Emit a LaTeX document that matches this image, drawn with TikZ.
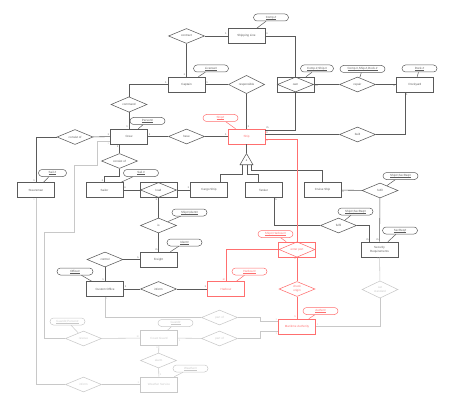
\documentclass[tikz,border=0pt]{standalone}
\usepackage{fontspec}
\setmainfont{Liberation Sans}
\usetikzlibrary{shapes.geometric}
\definecolor{erink}{HTML}{5A5A5A}
\definecolor{erred}{HTML}{FF6F6F}
\definecolor{ergray}{HTML}{C8C8C8}
\newcommand{\ulkey}[1]{\leavevmode\vtop{\hbox{#1}\kern0.25pt\hrule height 0.15pt}}
\begin{document}
\begin{tikzpicture}[x=1pt, y=-1pt,
    ent_style/.style={draw=erink, line width=0.55pt, minimum width=37pt, minimum height=15pt, inner sep=0pt, text=erink, align=center, font=\fontsize{3}{3.6}\selectfont},
    rel_style/.style={diamond, draw=erink, line width=0.55pt, minimum width=36pt, minimum height=15pt, inner sep=0pt, text=erink, align=center, font=\fontsize{3}{3.6}\selectfont},
    key_style/.style={draw=erink, line width=0.5pt, rounded corners=3.5pt, minimum width=35pt, minimum height=7pt, inner sep=0pt, text=erink, font=\fontsize{3}{3.6}\selectfont},
    isa_style/.style={regular polygon, regular polygon sides=3, draw=erink, line width=0.55pt, minimum size=15pt, inner sep=0pt, text=erink, font=\fontsize{2.6}{3}\selectfont},
    red_style/.style={draw=erred, text=erred},
    gray_style/.style={draw=ergray, text=ergray},
    link_style/.style={draw=erink, line width=0.55pt},
    card_style/.style={font=\fontsize{2.6}{3}\selectfont, text=erink, inner sep=0.8pt}
]
\useasboundingbox (0,0) rectangle (454,406);
% top row
\node[ent_style] (shipline) at (246.5,36) {Shipping Line};
\node[key_style] (compkey) at (271,17.5) {\ulkey{Comp.\#}};
\node[rel_style] (contract) at (186.5,36) {contract};
\node[ent_style] (captain) at (186.5,84.5) {Captain};
\node[key_style] (licensekey) at (211,68.5) {\ulkey{License\#}};
\node[rel_style] (responsible) at (246.5,84.5) {responsible};
\node[ent_style] (own) at (295.5,84.5) {};
\node[rel_style] (ownrel) at (own) {own};
\node[key_style, minimum width=33pt] (ownkey) at (317,68.5) {\ulkey{Comp.\#,Ship.\#}};
\node[rel_style] (repair) at (357.5,84.5) {repair};
\node[key_style, minimum width=45pt] (repairkey) at (362.5,69) {\ulkey{Comp.\#,Ship.\#,Dock.\#}};
\node[ent_style] (dockyard) at (415,84.5) {Dockyard};
\node[key_style] (dockkey) at (419.5,68.5) {\ulkey{Dock.\#}};
% crew row
\node[rel_style] (command) at (129,104.5) {command};
\node[ent_style] (crew) at (129,136.5) {Crew};
\node[key_style] (personkey) at (147.5,121) {\ulkey{Person\#}};
\node[rel_style] (consistA) at (75,137) {consist of};
\node[rel_style] (have) at (186.5,136.5) {have};
\node[ent_style, red_style] (ship) at (246.5,136.5) {Ship};
\node[key_style, red_style] (shipkey) at (220.5,118) {\ulkey{Ship\#}};
\node[rel_style] (built) at (357.5,134.5) {built};
% subtypes
\node[rel_style] (consistB) at (119.5,161) {consist of};
\node[isa_style] (isa) at (246.5,161) {d};
\node[ent_style] (steersman) at (36,190) {Steersman};
\node[key_style, minimum width=28pt] (steerkey) at (52.5,173) {\ulkey{Sail.\#}};
\node[ent_style] (sailor) at (104.5,190) {Sailor};
\node[key_style] (sailkey) at (141,173) {\ulkey{Sail.\#}};
\node[ent_style] (load) at (158.5,190) {};
\node[rel_style] (loadrel) at (load) {load};
\node[ent_style] (cargo) at (209,190) {Cargo Ship};
\node[ent_style] (tanker) at (263.5,190) {Tanker};
\node[ent_style] (cruise) at (322.5,190) {Cruise Ship};
\node[rel_style] (fulfilA) at (380,190.5) {fulfil};
\node[key_style] (fulfilAkey) at (400.5,176) {\ulkey{Ship\#,SecReq\#}};
% lower part
\node[rel_style] (is) at (158.5,225.5) {is};
\node[key_style] (iskey) at (189.5,212.5) {\ulkey{Ship\#,Ident\#}};
\node[rel_style] (fulfilB) at (338.5,225.5) {fulfil};
\node[key_style] (fulfilBkey) at (355.5,211.5) {\ulkey{Ship\#,SecReq\#}};
\node[ent_style] (secreq) at (379.5,249.5) {Security\\Requirements};
\node[key_style] (secreqkey) at (400,230.5) {\ulkey{SecReq\#}};
\node[ent_style, red_style] (enterport) at (297,249.5) {};
\node[rel_style, red_style] (enterrel) at (enterport) {enter port};
\node[key_style, red_style] (enterkey) at (275.5,234) {\ulkey{Ship\#,Harbour\#}};
\node[ent_style] (freight) at (158.5,259.5) {Freight};
\node[key_style] (identkey) at (184.5,242.5) {\ulkey{Ident\#}};
\node[rel_style] (control) at (105,259.5) {control};
\node[ent_style] (custom) at (105,289) {Custom Office};
\node[key_style, minimum width=36pt] (officekey) at (75,271.5) {\ulkey{Office\#}};
\node[rel_style] (inform) at (158.5,289) {inform};
\node[ent_style, red_style] (harbour) at (226,289) {Harbour};
\node[key_style, red_style] (harbourkey) at (249.5,271.5) {\ulkey{Harbour\#}};
\node[rel_style, red_style] (check) at (297,289) {check\\origin};
\node[rel_style, gray_style] (setstd) at (380,289.5) {set\\standard};
% bottom part
\node[ent_style, red_style] (maritime) at (297,326.5) {Maritime Authority};
\node[key_style, red_style] (authkey) at (320.5,311) {\ulkey{Author\#}};
\node[rel_style, gray_style] (partA) at (219.5,317.5) {part of};
\node[rel_style, gray_style] (partB) at (219.5,338.5) {part of};
\node[ent_style, gray_style] (coast) at (159,338) {Coast Guard};
\node[key_style, gray_style] (guardkey) at (175.5,323) {\ulkey{Guard\#}};
\node[rel_style, gray_style] (rescue) at (83.5,338.5) {rescue};
\node[key_style, gray_style] (rescuekey) at (67.5,321.5) {\ulkey{Guard\#,Person\#}};
\node[rel_style, gray_style] (alarm) at (158.5,360.5) {alarm};
\node[ent_style, gray_style] (weather) at (159,384.5) {Weather Service};
\node[key_style, gray_style] (weatherkey) at (190.5,368.5) {\ulkey{Weather\#}};
\node[rel_style, gray_style] (informB) at (83.5,384.5) {inform};
% keys
\foreach \k/\e in {compkey/shipline, licensekey/captain, ownkey/own, repairkey/repair, dockkey/dockyard, personkey/crew, steerkey/steersman, sailkey/sailor, fulfilAkey/fulfilA, iskey/is, fulfilBkey/fulfilB, secreqkey/secreq, identkey/freight, officekey/custom}
    \draw[link_style, line width=0.5pt] (\k) -- (\e);
\foreach \k/\e in {shipkey/ship, harbourkey/harbour, enterkey/enterport, authkey/maritime}
    \draw[link_style, line width=0.5pt, erred] (\k) -- (\e);
\foreach \k/\e in {guardkey/coast, rescuekey/rescue, weatherkey/weather}
    \draw[link_style, line width=0.5pt, ergray] (\k) -- (\e);
% black links
\draw[link_style] (contract) -- (shipline) node[card_style, pos=1, anchor=south east] {1};
\draw[link_style] (contract) -- (captain) node[card_style, pos=1, anchor=south east] {n};
\draw[link_style] (shipline) -| (own) node[card_style, pos=0, anchor=south west] {n};
\draw[link_style] (captain) -- (responsible) node[card_style, pos=0, anchor=south west] {1};
\draw[link_style] (responsible) -- (ship) node[card_style, pos=1, anchor=south west] {1};
\draw[link_style] (own) |- ([yshift=6.5pt]ship.east) node[card_style, pos=1, anchor=south west] {m};
\draw[link_style] (own) -- (repair) node[card_style, pos=0, anchor=north west] {m};
\draw[link_style] (repair) -- (dockyard) node[card_style, pos=1, anchor=north east] {n};
\draw[link_style] ([xshift=-10pt]dockyard.south) |- (built) node[card_style, pos=0, anchor=north west] {1};
\draw[link_style] (built) -- ([yshift=2pt]ship.east) node[card_style, pos=1, anchor=south west] {n};
\draw[link_style] (command) |- (captain) node[card_style, pos=1, anchor=south east] {1};
\draw[link_style] (command) -- (crew) node[card_style, pos=1, anchor=south east] {1};
\draw[link_style] (crew) -- (have) node[card_style, pos=0, anchor=south west] {1};
\draw[link_style] (have) -- (ship) node[card_style, pos=1, anchor=south east] {1};
\draw[link_style] (consistA) -- (crew) node[card_style, pos=1, anchor=south east] {1};
\draw[link_style] (consistA) -| (steersman) node[card_style, pos=1, anchor=south east] {1};
\draw[link_style] (consistB |- crew.south) -- (consistB) node[card_style, pos=0, anchor=north east] {1};
\draw[link_style] (consistB.south) -- ++(0,7) -| (sailor) node[card_style, pos=1, anchor=south east] {n};
\draw[link_style] (sailor) -- (load) node[card_style, pos=0, anchor=south west] {n};
\draw[link_style] (load) -- (cargo) node[card_style, pos=1, anchor=south east] {1};
\draw[link_style] (load) -- (is) node[card_style, pos=0, anchor=north east] {n};
\draw[link_style] (is) -- (freight) node[card_style, pos=1, anchor=south east] {m};
\draw[link_style] (control) -- (freight) node[card_style, pos=1, anchor=south east] {n};
\draw[link_style] (control) -- (custom) node[card_style, pos=1, anchor=south east] {1};
\draw[link_style] (custom) -- (inform) node[card_style, pos=0, anchor=south west] {1};
\draw[link_style] (inform) -- (harbour) node[card_style, pos=1, anchor=south east] {1};
\draw[link_style] (ship) -- (isa.corner 1);
\draw[link_style] ([xshift=-4pt]isa.south) -- ++(0,9) -| ([xshift=11pt]cargo.north);
\draw[link_style] ([xshift=1pt]isa.south) -- ++(0,9) -| ([xshift=-5.5pt]tanker.north);
\draw[link_style] ([xshift=5pt]isa.south) -- ++(0,5) -| (cruise.north);
\draw[link_style] (cruise) -- (fulfilA) node[card_style, pos=0, anchor=north west] {n};
\draw[link_style] (fulfilA) -- (secreq) node[card_style, pos=1, anchor=south east] {m};
\draw[link_style] ([xshift=10.5pt]tanker.south) |- (fulfilB) node[card_style, pos=0, anchor=north west] {n};
\draw[link_style] (fulfilB) -| ([xshift=-10pt]secreq.north) node[card_style, pos=1, anchor=south east] {m};
% red links
\draw[link_style, erred] ([yshift=-3pt]ship.east) -| (enterport) node[card_style, text=erred, pos=0, anchor=north west] {n};
\draw[link_style, erred] (enterport) -| (harbour) node[card_style, text=erred, pos=1, anchor=south east] {m};
\draw[link_style, erred] (enterport) -- (check) node[card_style, text=erred, pos=0, anchor=north east] {n};
\draw[link_style, erred] (check) -- (maritime) node[card_style, text=erred, pos=1, anchor=south east] {1};
% gray links
\draw[link_style, ergray] (secreq) -- (setstd) node[card_style, text=ergray, pos=0, anchor=north east] {n};
\draw[link_style, ergray] (setstd) |- (maritime) node[card_style, text=ergray, pos=1, anchor=south west] {1};
\draw[link_style, ergray] (custom) |- (partA) node[card_style, text=ergray, pos=0, anchor=north west] {1};
\draw[link_style, ergray] (partA) -- (260,317.5) |- ([yshift=5pt]maritime.west) node[card_style, text=ergray, pos=1, anchor=south east] {1};
\draw[link_style, ergray] (coast) -- (partB) node[card_style, text=ergray, pos=0, anchor=north west] {1};
\draw[link_style, ergray] (partB) -- (260,338.5) |- ([yshift=-5pt]maritime.west) node[card_style, text=ergray, pos=1, anchor=north east] {1};
\draw[link_style, ergray] ([yshift=-5pt]crew.west) node[card_style, text=ergray, anchor=north east] {1} -- (97,141.5) |- (74,165) |- (44,232) |- (rescue);
\draw[link_style, ergray] (rescue) -- (coast) node[card_style, text=ergray, pos=1, anchor=south east] {m};
\draw[link_style, ergray] (coast) -- (alarm) node[card_style, text=ergray, pos=0, anchor=north east] {n};
\draw[link_style, ergray] (alarm) -- (weather) node[card_style, text=ergray, pos=1, anchor=south west] {1};
\draw[link_style, ergray] (steersman) |- (informB) node[card_style, text=ergray, pos=0, anchor=north east] {n};
\draw[link_style, ergray] (informB) -- (weather) node[card_style, text=ergray, pos=1, anchor=south east] {1};
\end{tikzpicture}
\end{document}
